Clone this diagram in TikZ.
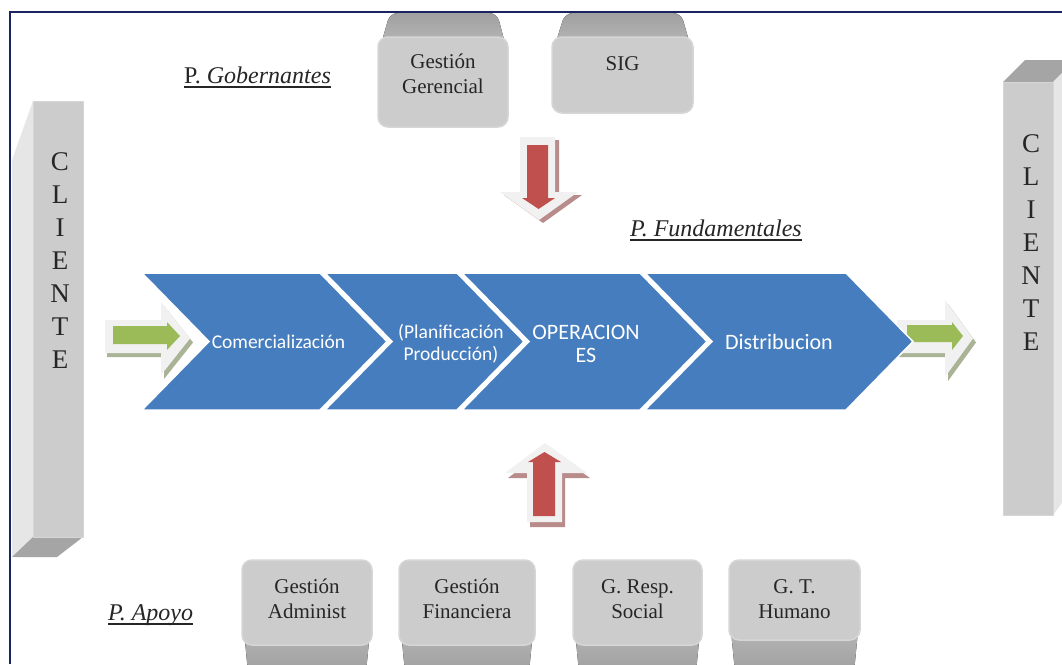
\documentclass[tikz,border=0pt]{standalone}
\usepackage{fontspec}
\setmainfont{Liberation Serif}
\newfontfamily\chevfont{Carlito}
% several centred lines whose baseline is that of the first line
\newcommand\stacked[1]{\begin{tabular}[t]{@{}c@{}}#1\end{tabular}}

\definecolor{framenavy}{HTML}{1B2461}
\definecolor{facegray}{HTML}{CCCCCC}
\definecolor{rimgray}{HTML}{D6D6D6}
\definecolor{bevdark}{HTML}{A0A0A0}
\definecolor{bevlight}{HTML}{BEBEBE}
\definecolor{sidegray}{HTML}{E6E6E6}
\definecolor{endgray}{HTML}{A5A5A5}
\definecolor{inkgray}{HTML}{262626}
\definecolor{chevblue}{HTML}{457DBE}
\definecolor{glowgray}{HTML}{F1F1F1}
\definecolor{leafgreen}{HTML}{9BBB59}
\definecolor{greenshade}{HTML}{A9B396}
\definecolor{brickred}{HTML}{C0504D}
\definecolor{redshade}{HTML}{B98C8C}

\begin{document}
\begin{tikzpicture}[x=1pt,y=-1pt,
  frameline/.style={draw=framenavy,line width=2},
  boxface/.style={fill=facegray,draw=rimgray,line width=1.5,rounded corners=10,inner sep=0},
  boxtext/.style={font=\fontsize{21}{25}\selectfont,text=inkgray,inner sep=0,anchor=base},
  pillar/.style={fill=facegray,draw=rimgray,line width=1,inner sep=0},
  clitext/.style={font=\fontsize{27}{33}\selectfont,text=inkgray,inner sep=0,anchor=base},
  chevron/.style={fill=chevblue,draw=white,line width=1.5},
  chevtext/.style={font=\chevfont\fontsize{19.5}{22}\selectfont,text=white,inner sep=0,anchor=base},
  chevbig/.style={chevtext,font=\chevfont\fontsize{22}{23}\selectfont},
  lbl/.style={font=\fontsize{24}{28}\selectfont,text=inkgray,inner sep=0,anchor=base west},
  uline/.style={draw=inkgray,line width=1.2},
]
\useasboundingbox (0,0) rectangle (1062,664);
\fill[white] (0,0) rectangle (1062,664);

% frame
\draw[frameline] (10,664) -- (10,12) -- (1062,12);

% ---- upper boxes (extruded upwards)
\fill[top color=bevdark,bottom color=bevlight,rounded corners=8]
  (390,13) -- (497,13) -- (508,55) -- (378,55) -- cycle;
\node[boxface,minimum width=130,minimum height=90] (gg) at (443,82) {};
\node[boxtext] (ggt) at (443,68) {\stacked{Gestión\\Gerencial}};

\fill[top color=bevdark,bottom color=bevlight,rounded corners=8]
  (565,13) -- (681,13) -- (693,55) -- (552,55) -- cycle;
\node[boxface,minimum width=141,minimum height=76] (sig) at (622.5,75) {};
\node[boxtext] (sigt) at (622.5,70) {SIG};

% ---- lower boxes (extruded downwards)
\foreach \xa/\xb in {242/372,399/535,573/702,729/860}{
  \fill[top color=bevlight,bottom color=bevdark,rounded corners=6]
    (\xa,610) -- (\xb,610) -- (\xb-6,672) -- (\xa+6,672) -- cycle;
}
\node[boxface,minimum width=130,minimum height=85] (adm) at (307,602.5) {};
\node[boxface,minimum width=136,minimum height=85] (fin) at (467,602.5) {};
\node[boxface,minimum width=129,minimum height=85] (rsp) at (637.5,602.5) {};
\node[boxface,minimum width=131,minimum height=80] (hum) at (794.5,600) {};
\node[boxtext] (admt) at (307,593) {\stacked{Gestión\\Administ}};
\node[boxtext] (fint) at (467,593) {\stacked{Gestión\\Financiera}};
\node[boxtext] (rspt) at (637.5,593) {\stacked{G. Resp.\\Social}};
\node[boxtext] (humt) at (794.5,593) {\stacked{G. T.\\Humano}};

% ---- client pillars
\fill[sidegray] (33,101) -- (12,160) -- (12,557) -- (33,537) -- cycle;
\fill[endgray] (33,537) -- (83,537) -- (57,557) -- (12,557) -- cycle;
\node[pillar,minimum width=50,minimum height=436] (pilL) at (58,319) {};
\node[clitext] (cliL) at (60,170) {\stacked{C\\L\\I\\E\\N\\T\\E}};

\fill[endgray] (1003,82) -- (1025,60) -- (1062,60) -- (1062,73) -- (1053,82) -- cycle;
\fill[sidegray] (1053,82) -- (1062,73) -- (1062,503) -- (1053,515) -- cycle;
\node[pillar,minimum width=50,minimum height=433] (pilR) at (1028,298.5) {};
\node[clitext] (cliR) at (1031,152) {\stacked{C\\L\\I\\E\\N\\T\\E}};

% ---- green block arrows (shadow, glow, body)
\fill[greenshade] (107,324) -- (164,324) -- (164,306) -- (193,342.5) -- (164,379) -- (164,357) -- (107,357) -- cycle;
\fill[glowgray] (105,320) -- (161,320) -- (161,302) -- (190,338.5) -- (161,375) -- (161,353) -- (105,353) -- cycle;
\fill[leafgreen] (113,326) -- (167,326) -- (167,322) -- (180,336) -- (167,350) -- (167,344) -- (113,344) -- cycle;

\fill[greenshade] (899,324) -- (948,324) -- (948,304) -- (976,342.5) -- (948,381) -- (948,357) -- (899,357) -- cycle;
\fill[glowgray] (897,320) -- (945,320) -- (945,300) -- (973,338.5) -- (945,377) -- (945,353) -- (897,353) -- cycle;
\fill[leafgreen] (907,325) -- (952,325) -- (952,322) -- (963,336) -- (952,350) -- (952,342) -- (907,342) -- cycle;

% ---- process chevrons
\draw[chevron] (142,273) -- (320,273) -- (387,341.5) -- (320,410) -- (142,410) -- (209,341.5) -- cycle;
\draw[chevron] (325,273) -- (457,273) -- (524,341.5) -- (457,410) -- (325,410) -- (392,341.5) -- cycle;
\draw[chevron] (462,273) -- (640,273) -- (707,341.5) -- (640,410) -- (462,410) -- (529,341.5) -- cycle;
\draw[chevron] (645,273) -- (846,273) -- (913,341.5) -- (846,410) -- (645,410) -- (712,341.5) -- cycle;
\node[chevtext] (com) at (278.5,348) {Comercialización};
\node[chevtext] (pla) at (451,338) {\stacked{(Planificación\\Producción)}};
\node[chevbig] (ope) at (586,339) {\stacked{OPERACION\\ES}};
\node[chevbig] (dis) at (779,349) {Distribucion};

% ---- red block arrows (shadow, glow, body)
\fill[redshade] (524,140) -- (559,140) -- (559,195) -- (582,195) -- (543,223) -- (504,195) -- (524,195) -- cycle;
\fill[glowgray] (520,137) -- (555,137) -- (555,192) -- (578,192) -- (539,220) -- (500,192) -- (520,192) -- cycle;
\fill[brickred] (527,145) -- (548,145) -- (548,198) -- (555,198) -- (538.5,209) -- (522,198) -- (527,198) -- cycle;

\fill[redshade] (548,448) -- (590,478) -- (565,478) -- (565,527) -- (530,527) -- (530,478) -- (508,478) -- cycle;
\fill[glowgray] (545,443) -- (587,473) -- (562,473) -- (562,522) -- (527,522) -- (527,473) -- (505,473) -- cycle;
\fill[brickred] (544.5,452) -- (561,462) -- (555,462) -- (555,516) -- (533,516) -- (533,462) -- (528,462) -- cycle;

% ---- section titles
\node[lbl] (gob) at (184,83) {P. \textit{Gobernantes}};
\node[lbl] (fun) at (630,236) {\textit{P. Fundamentales}};
\node[lbl] (apo) at (108,620) {\textit{P. Apoyo}};
\draw[uline] ([yshift=-4]gob.base west) -- ([yshift=-4]gob.base east);
\draw[uline] ([yshift=-4]fun.base west) -- ([yshift=-4]fun.base east);
\draw[uline] ([yshift=-4]apo.base west) -- ([yshift=-4]apo.base east);
\end{tikzpicture}
\end{document}
